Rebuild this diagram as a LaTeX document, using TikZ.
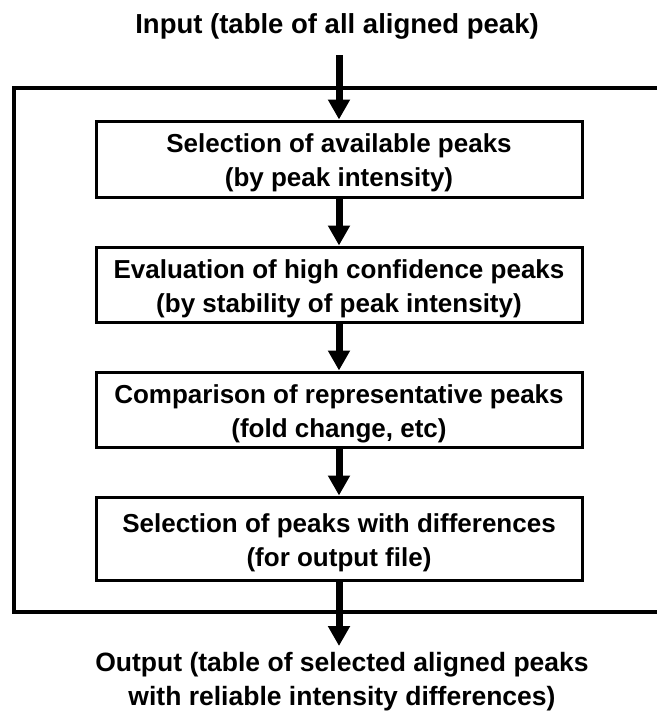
\documentclass[tikz,border=0pt]{standalone}
\usepackage{fontspec}
\setmainfont{Liberation Sans}
\usetikzlibrary{arrows.meta}
\newcommand{\boxtext}[1]{\raisebox{-4pt}[\height][\depth]{\begin{tabular}{@{}c@{}}#1\end{tabular}}}
\begin{document}
\begin{tikzpicture}[x=1pt,y=-1pt,
  stepbox/.style={draw,line width=3pt,minimum width=486pt,inner sep=0pt,align=center,
    font=\fontsize{26}{34}\selectfont\bfseries},
  label/.style={inner sep=0pt,align=center,font=\fontsize{26.5}{34}\selectfont\bfseries},
  flow/.style={line width=7pt,-{Triangle[width=21pt,length=20pt]}},
  frame/.style={line width=4pt}]
\useasboundingbox (0,0) rectangle (657,712);
\node[label,font=\fontsize{27.5}{34}\selectfont\bfseries] (inp) at (337,26) {Input (table of all aligned peak)};
\coordinate (inarrow) at (339,55);
\draw[frame] (657,88) -- (14,88) -- (14,612) -- (657,612);
\node[stepbox,minimum height=76pt] (b1) at (339,159) {\boxtext{Selection of available peaks\\(by peak intensity)}};
\node[stepbox,minimum height=75pt] (b2) at (339,284.5) {\boxtext{Evaluation of high confidence peaks\\(by stability of peak intensity)}};
\node[stepbox,minimum height=75pt] (b3) at (339,409.5) {\boxtext{Comparison of representative peaks\\(fold change, etc)}};
\node[stepbox,minimum height=83pt] (b4) at (339,538.5) {\boxtext{Selection of peaks with differences\\(for output file)}};
\coordinate (outarrow) at (339,646);
\node[label] (out) at (342,682) {Output (table of selected aligned peaks\\with reliable intensity differences)};
\draw[flow] (inarrow) -- (b1.north);
\draw[flow] (b1.south) -- (b2.north);
\draw[flow] (b2.south) -- (b3.north);
\draw[flow] (b3.south) -- (b4.north);
\draw[flow] (b4.south) -- (outarrow);
\end{tikzpicture}
\end{document}
